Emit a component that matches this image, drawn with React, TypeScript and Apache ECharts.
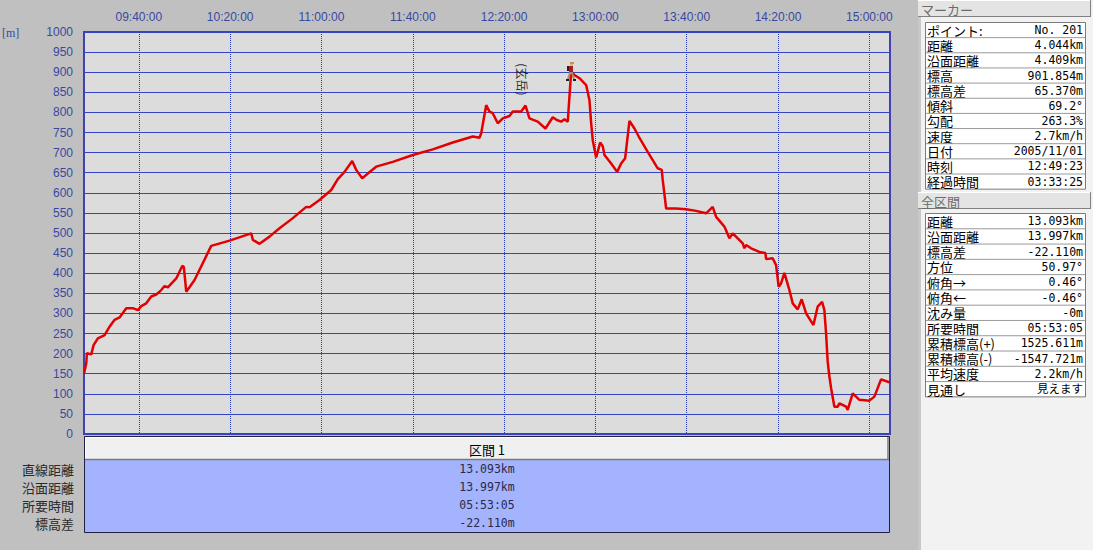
import React, { useEffect, useRef } from "react";
import * as echarts from "echarts";

// ---- data ----
const times = [
  "09:15:58", "09:16:58", "09:17:13", "09:19:09", "09:20:10", "09:22:02", "09:24:59", "09:27:10",
  "09:29:22", "09:31:33", "09:34:29", "09:37:22", "09:39:34", "09:41:03", "09:43:14", "09:45:26",
  "09:47:37", "09:49:49", "09:51:15", "09:52:42", "09:56:23", "09:59:01", "09:59:42", "10:00:46",
  "10:04:24", "10:11:42", "10:19:43", "10:29:14", "10:29:56", "10:32:52", "10:37:14", "10:41:37",
  "10:47:27", "10:53:19", "10:54:46", "10:59:08", "11:04:16", "11:07:09", "11:10:05", "11:13:28",
  "11:15:13", "11:17:50", "11:20:18", "11:23:58", "11:31:14", "11:40:00", "11:48:46", "11:57:31",
  "12:06:17", "12:09:13", "12:09:58", "12:12:09", "12:13:36", "12:15:02", "12:17:14", "12:19:25",
  "12:22:21", "12:23:48", "12:27:29", "12:29:22", "12:31:07", "12:34:45", "12:38:07", "12:41:19",
  "12:43:04", "12:45:00", "12:46:26", "12:47:53", "12:49:23", "12:50:49", "12:53:01", "12:55:57",
  "12:57:23", "12:58:08", "12:58:50", "13:00:19", "13:02:05", "13:03:13", "13:03:58", "13:06:54",
  "13:09:31", "13:11:17", "13:13:02", "13:14:55", "13:17:06", "13:18:59", "13:22:55", "13:27:18",
  "13:29:03", "13:29:29", "13:30:59", "13:35:22", "13:39:44", "13:44:07", "13:48:30", "13:51:23",
  "13:52:53", "13:56:31", "13:58:42", "14:00:09", "14:04:32", "14:05:16", "14:06:01", "14:08:12",
  "14:11:50", "14:14:28", "14:14:47", "14:17:40", "14:19:09", "14:20:17", "14:21:21", "14:22:47",
  "14:24:59", "14:26:26", "14:28:37", "14:30:22", "14:32:18", "14:35:30", "14:37:23", "14:39:18",
  "14:40:18", "14:41:03", "14:41:45", "14:42:30", "14:43:15", "14:44:41", "14:46:08", "14:46:53",
  "14:49:49", "14:50:31", "14:52:43", "14:55:38", "15:00:01", "15:02:13", "15:05:08", "15:09:03",
];
const elevations = [
  150, 176, 201, 198, 221, 238, 246, 267,
  284, 290, 313, 313, 308, 318, 325, 342,
  347, 358, 368, 365, 387, 418, 416, 354,
  383, 468, 481, 499, 483, 473, 491, 512,
  537, 565, 564, 582, 607, 634, 652, 679,
  657, 636, 648, 665, 677, 694, 708, 725,
  740, 737, 748, 818, 802, 798, 773, 785,
  791, 802, 802, 817, 785, 777, 760, 788,
  781, 777, 783, 777, 901.854, 893, 885, 868,
  831, 773, 731, 688, 725, 716, 694, 673,
  652, 673, 686, 779, 760, 740, 702, 661,
  657, 632, 561, 561, 559, 555, 549, 565,
  540, 516, 487, 499, 474, 462, 470, 462,
  453, 450, 435, 437, 420, 366, 375, 401,
  358, 325, 310, 335, 300, 271, 317, 329,
  308, 250, 180, 143, 114, 68, 68, 76,
  68, 60, 101, 85, 83, 93, 136, 128,
];
const xTickLabels = ["09:40:00", "10:20:00", "11:00:00", "11:40:00", "12:20:00", "13:00:00", "13:40:00", "14:20:00", "15:00:00"];
const startTime = "09:15:58";
const endTime = "15:09:03";
const yUnit = "[m]";

const peakNames = ["(玄岳)"];
const peakTimes = ["12:27:55"];
const peakElevations = [882];

const markerTime = "12:49:23";
const markerElevation = 901.854;

const markerTitle = "マーカー";
const markerLabels = ["ポイント:", "距離", "沿面距離", "標高", "標高差", "傾斜", "勾配", "速度", "日付", "時刻", "経過時間"];
const markerValues = ["No. 201", "4.044km", "4.409km", "901.854m", "65.370m", "69.2°", "263.3%", "2.7km/h", "2005/11/01", "12:49:23", "03:33:25"];

const totalTitle = "全区間";
const totalLabels = ["距離", "沿面距離", "標高差", "方位", "俯角→", "俯角←", "沈み量", "所要時間", "累積標高(+)", "累積標高(-)", "平均速度", "見通し"];
const totalValues = ["13.093km", "13.997km", "-22.110m", "50.97°", "0.46°", "-0.46°", "-0m", "05:53:05", "1525.611m", "-1547.721m", "2.2km/h", "見えます"];

const sectionName = "区間 1";
const sectionRowLabels = ["直線距離", "沿面距離", "所要時間", "標高差"];
const sectionValues = ["13.093km", "13.997km", "05:53:05", "-22.110m"];

// ---- helpers ----
const toMin = (t: string) => {
  const [h, m, s] = t.split(":").map(Number);
  return h * 60 + m + (s || 0) / 60;
};
const fmtMin = (v: number) => {
  const h = Math.floor(v / 60 + 1e-6);
  const m = Math.round(v - h * 60);
  return `${String(h).padStart(2, "0")}:${String(m).padStart(2, "0")}:00`;
};

const CJK = '"Noto Sans CJK JP", "Noto Sans CJK SC", sans-serif';
const MONO = '"DejaVu Sans Mono", "Noto Sans CJK JP", monospace';
const AXIS_FONT = '"Liberation Sans", Arial, sans-serif';

function txt(text: string, x: number, y: number, font: string, fill: string, align = "left") {
  return {
    type: "text",
    silent: true,
    style: { text, x, y, font, fill, textAlign: align, textVerticalAlign: "middle", align, verticalAlign: "middle" },
  };
}
function rect(x: number, y: number, w: number, h: number, fill: string, stroke?: string, lw = 1) {
  return {
    type: "rect",
    silent: true,
    shape: { x, y, width: w, height: h },
    style: { fill, stroke: stroke || null, lineWidth: lw },
  };
}
function line(x1: number, y1: number, x2: number, y2: number, stroke: string, lw = 1) {
  return { type: "line", silent: true, shape: { x1, y1, x2, y2 }, style: { stroke, lineWidth: lw } };
}

function headerButton(title: string, y: number) {
  return [
    rect(918, y, 173, 17, "#e4e4e4"),
    line(918, y + 0.5, 1091, y + 0.5, "#ffffff"),
    line(918, y + 16.5, 1091, y + 16.5, "#808080"),
    line(1090.5, y, 1090.5, y + 17, "#808080"),
    txt(title, 921, y + 9, `13px ${CJK}`, "#6c6c6c"),
  ];
}

function infoTable(top: number, rowH: number, labels: string[], values: string[]) {
  const els: any[] = [];
  const h = rowH * labels.length;
  els.push(rect(925.5, top + 0.5, 160, h, "#ffffff", "#7a7a7a"));
  labels.forEach((lab, i) => {
    const y = top + rowH * i;
    if (i > 0) els.push(line(926, y + 0.5, 1085, y + 0.5, "#9a9a9a"));
    els.push(txt(lab, 927, y + rowH / 2 + 0.5, `13px ${CJK}`, "#000000"));
    els.push(txt(values[i], 1083, y + rowH / 2 + 0.5, `11.5px ${MONO}`, "#000000", "right"));
  });
  return els;
}

function buildGraphics() {
  const els: any[] = [];
  // right panel
  els.push(rect(918, 0, 175, 550, "#f2f2f2"));
  els.push(rect(918, 17, 3, 533, "#c8c8c8"));
  els.push(...headerButton(markerTitle, 0));
  els.push(...infoTable(22, 15.15, markerLabels, markerValues));
  els.push(...headerButton(totalTitle, 192));
  els.push(...infoTable(213, 15.28, totalLabels, totalValues));
  // y unit
  els.push(txt(yUnit, 2, 33, `12px "Liberation Serif", serif`, "#3848a0"));
  // bottom section table
  els.push(rect(84.5, 436.5, 805, 96, "#a3b3fe", "#202040"));
  els.push(rect(85, 437, 804, 22, "#f0f0f0"));
  els.push(line(85, 437.5, 888, 437.5, "#ffffff"));
  els.push(line(85.5, 437, 85.5, 459, "#ffffff"));
  els.push(line(85, 459.5, 889, 459.5, "#7a7a7a", 1.5));
  els.push(line(888, 437, 888, 460, "#7a7a7a", 1.5));
  els.push(txt(sectionName, 487, 449, `13px ${CJK}`, "#000000", "center"));
  sectionRowLabels.forEach((lab, i) => {
    const y = 469 + 18 * i;
    els.push(txt(lab, 74, y, `13px ${CJK}`, "#2a2a2a", "right"));
    els.push(txt(sectionValues[i], 487, y, `11.5px ${MONO}`, "#2a2a48", "center"));
  });
  return els;
}

export default function App() {
  const ref = useRef<HTMLDivElement>(null);
  useEffect(() => {
    if (!ref.current) return;
    const chart = echarts.init(ref.current, undefined, { renderer: "svg" });
    const lineData = times.map((t, i) => [toMin(t), elevations[i]]);
    const tickValues = xTickLabels.map(toMin);
    const option: any = {
      animation: false,
      backgroundColor: "#c0c0c0",
      grid: {
        left: 84,
        top: 32,
        width: 806,
        height: 402,
        show: true,
        backgroundColor: "#dcdcdc",
        borderColor: "#4040b0",
        borderWidth: 2,
      },
      xAxis: {
        type: "value",
        position: "top",
        min: toMin(startTime),
        max: toMin(endTime),
        axisLine: { show: false },
        axisTick: { show: false, customValues: tickValues },
        axisLabel: {
          customValues: tickValues,
          formatter: (v: number) => fmtMin(v),
          color: "#3848a0",
          fontSize: 12,
          fontFamily: AXIS_FONT,
          margin: 9,
        },
        splitLine: { show: true, lineStyle: { color: "#2838b0", width: 1, type: [1, 1] } },
      },
      yAxis: {
        type: "value",
        min: 0,
        max: 1000,
        interval: 50,
        axisLine: { show: false },
        axisTick: { show: false },
        axisLabel: {
          color: "#3848a0",
          fontSize: 12,
          fontFamily: AXIS_FONT,
          margin: 11,
          formatter: (v: number) => String(v),
        },
        splitLine: { show: true, lineStyle: { color: "#3444c4", width: 1 } },
      },
      series: [
        {
          type: "line",
          data: lineData,
          showSymbol: false,
          silent: true,
          lineStyle: { color: "#e40000", width: 2.5 },
          z: 3,
        },
        {
          type: "scatter",
          data: peakNames.map((n, i) => ({ name: n, value: [toMin(peakTimes[i]), peakElevations[i]] })),
          symbolSize: 1,
          itemStyle: { color: "rgba(0,0,0,0)" },
          silent: true,
          label: {
            show: true,
            formatter: (p: any) => p.name,
            position: "inside",
            rotate: -90,
            color: "#000000",
            fontSize: 12,
            fontFamily: CJK,
          },
          z: 4,
        },
        {
          type: "custom",
          data: [[toMin(markerTime), markerElevation]],
          silent: true,
          z: 5,
          renderItem: (params: any, api: any) => {
            const p = api.coord([api.value(0), api.value(1)]);
            const x = Math.round(p[0]);
            const y = Math.round(p[1]);
            return {
              type: "group",
              children: [
                // hat
                { type: "rect", shape: { x: x - 1, y: y - 9, width: 4, height: 2 }, style: { fill: "#d88a4a" } },
                // face
                { type: "rect", shape: { x: x - 1, y: y - 7, width: 3, height: 2 }, style: { fill: "#e8b48a" } },
                // backpack
                { type: "rect", shape: { x: x - 4, y: y - 5, width: 2, height: 5 }, style: { fill: "#4a1010" } },
                // torso
                { type: "rect", shape: { x: x - 2, y: y - 5, width: 4, height: 6 }, style: { fill: "#a02424" } },
                // legs
                { type: "polyline", shape: { points: [[x - 3, y + 8], [x - 1, y + 2], [x + 1, y + 2], [x + 3, y + 8]] }, style: { stroke: "#a88a68", lineWidth: 2, fill: null } },
                // boots
                { type: "rect", shape: { x: x - 5, y: y + 8, width: 3, height: 2 }, style: { fill: "#1e1e1e" } },
                { type: "rect", shape: { x: x + 2, y: y + 8, width: 3, height: 2 }, style: { fill: "#1e1e1e" } },
              ],
            };
          },
        },
      ],
      graphic: { elements: buildGraphics() },
    };
    chart.setOption(option);
    return () => chart.dispose();
  }, []);
  return (
    <div
      ref={ref}
      style={{ position: "fixed", left: 0, top: 0, width: 1093, height: 550, background: "#c0c0c0" }}
    />
  );
}
